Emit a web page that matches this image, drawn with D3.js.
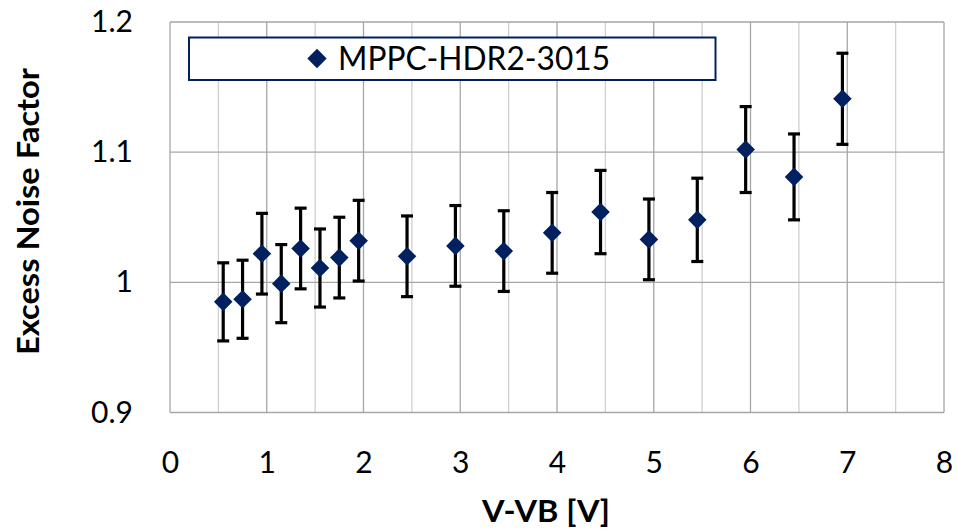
<!DOCTYPE html>
<html><head><meta charset="utf-8">
<script src="https://cdn.jsdelivr.net/npm/d3@7"></script>
<style>body{margin:0;background:#fff}svg{display:block}text{font-family:Lato,"Open Sans",sans-serif}</style>
</head><body><svg id="c" width="957" height="530"></svg>
<script>
const seriesName = "MPPC-HDR2-3015";
const xValues = [0.55,0.75,0.95,1.15,1.35,1.55,1.75,1.95,2.45,2.95,3.45,3.95,4.45,4.95,5.45,5.95,6.45,6.95];
const yValues = [0.985,0.987,1.022,0.999,1.026,1.011,1.019,1.032,1.020,1.028,1.024,1.038,1.054,1.033,1.048,1.102,1.081,1.141];
const yErrors = [0.030,0.030,0.031,0.030,0.031,0.030,0.031,0.031,0.031,0.031,0.031,0.031,0.032,0.031,0.032,0.033,0.033,0.035];
const xTicks = [0,1,2,3,4,5,6,7,8];
const xMinorTicks = [0.5,1.5,2.5,3.5,4.5,5.5,6.5,7.5];
const yTicks = [0.9,1.0,1.1,1.2];
const xTitle = "V-VB [V]";
const yTitle = "Excess Noise Factor";

const svg = d3.select("#c");
const L = 170, R = 944, T = 22, B = 412.5;
const x = d3.scaleLinear().domain([0,8]).range([L,R]);
const y = d3.scaleLinear().domain([0.9,1.2]).range([B,T]);

const g = svg.append("g");
g.selectAll(".vminor").data(xMinorTicks).enter().append("line")
  .attr("x1",d=>x(d)).attr("x2",d=>x(d)).attr("y1",T).attr("y2",B)
  .attr("stroke","#d0d0d0").attr("stroke-width",1.3);
g.selectAll(".vmajor").data(xTicks).enter().append("line")
  .attr("x1",d=>x(d)).attr("x2",d=>x(d)).attr("y1",T).attr("y2",B)
  .attr("stroke","#a6a6a6").attr("stroke-width",1.3);
g.selectAll(".hmajor").data(yTicks).enter().append("line")
  .attr("x1",L).attr("x2",R).attr("y1",d=>y(d)).attr("y2",d=>y(d))
  .attr("stroke","#a6a6a6").attr("stroke-width",1.3);

const fmt = d => d===1 ? "1" : d3.format(".1f")(d);
const xAxis = svg.append("g").attr("transform",`translate(0,${B})`)
  .call(d3.axisBottom(x).tickValues(xTicks).tickSize(0).tickPadding(39).tickFormat(d3.format("d")));
const yAxis = svg.append("g").attr("transform",`translate(${L},0)`)
  .call(d3.axisLeft(y).tickValues(yTicks).tickSize(0).tickPadding(37).tickFormat(fmt));
[xAxis,yAxis].forEach(a=>{
  a.select(".domain").remove();
  a.selectAll("text").attr("font-size",30).attr("fill","#000").style("font-family","Lato, sans-serif");
});

const eb = svg.append("g");
xValues.forEach((xv,i)=>{
  const cx = x(xv), y1 = y(yValues[i]+yErrors[i]), y2 = y(yValues[i]-yErrors[i]);
  eb.append("line").attr("x1",cx).attr("x2",cx).attr("y1",y1).attr("y2",y2).attr("stroke","#000").attr("stroke-width",3.2);
  [y1,y2].forEach(yy=>eb.append("line").attr("x1",cx-6).attr("x2",cx+6).attr("y1",yy).attr("y2",yy).attr("stroke","#000").attr("stroke-width",3.2));
});
const diamond = d3.symbol().type(d3.symbolDiamond2).size(220);
svg.append("g").selectAll("path").data(xValues).enter().append("path")
  .attr("d",diamond)
  .attr("transform",(d,i)=>`translate(${x(d)},${y(yValues[i])})`)
  .attr("fill","#002060");

const lg = svg.append("g");
lg.append("rect").attr("x",189).attr("y",37.5).attr("width",526.5).attr("height",42.5)
  .attr("fill","#fff").attr("stroke","#002060").attr("stroke-width",2);
lg.append("path").attr("d",d3.symbol().type(d3.symbolDiamond2).size(240)).attr("transform","translate(317,58.5)").attr("fill","#002060");
lg.append("text").attr("x",338).attr("y",70).attr("font-size",32).attr("textLength",272).attr("lengthAdjust","spacingAndGlyphs").attr("fill","#000").text(seriesName);

svg.append("text").attr("x",546).attr("y",522).attr("text-anchor","middle")
  .attr("font-size",30).attr("font-weight","bold").attr("textLength",128).attr("lengthAdjust","spacingAndGlyphs").attr("fill","#000").text(xTitle);
svg.append("text").attr("transform","translate(39,211.5) rotate(-90)").attr("text-anchor","middle")
  .attr("font-size",30).attr("font-weight","bold").attr("textLength",287).attr("lengthAdjust","spacingAndGlyphs").attr("fill","#000").text(yTitle);
</script></body></html>
